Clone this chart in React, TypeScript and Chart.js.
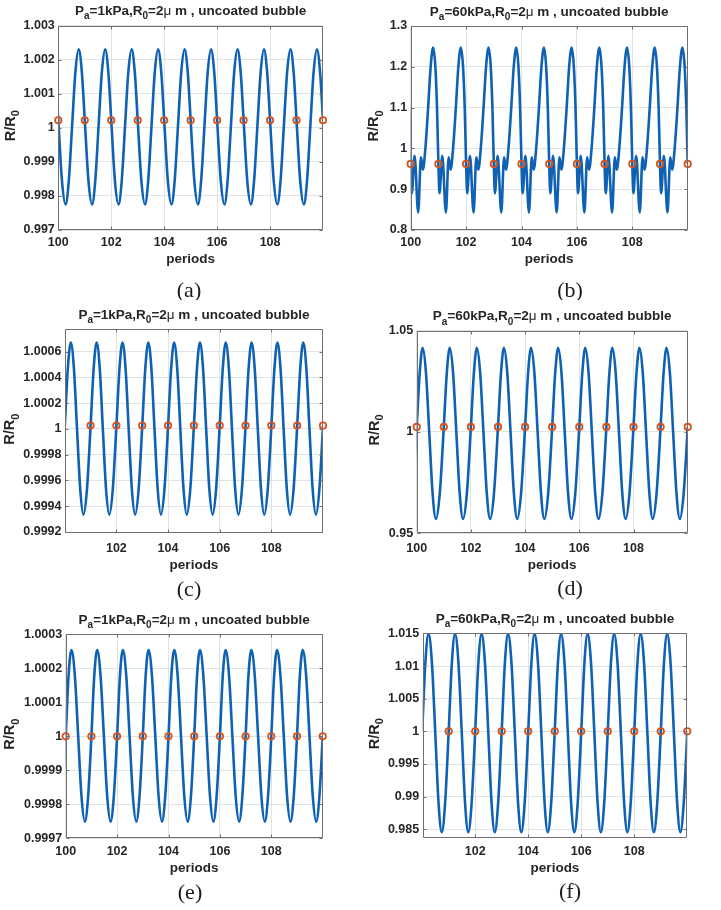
import React, { useEffect, useRef } from "react";
import { Chart, registerables } from "chart.js";
Chart.register(...registerables);

// ---------------- data ----------------
const periodStarts = [99, 100, 101, 102, 103, 104, 105, 106, 107, 108, 109, 110];

// (a) Pa = 1 kPa
const aPhase = [0, 0.14, 0.275, 0.395, 0.52, 0.645, 0.77, 0.89];
const aShape = [1.00022, 0.99843, 0.99775, 0.99843, 1.00003, 1.00163, 1.0023, 1.00163];
const aMarkX = [100, 101, 102, 103, 104, 105, 106, 107, 108, 109, 110];
const aMarkY = [1.00022, 1.00022, 1.00022, 1.00022, 1.00022, 1.00022, 1.00022, 1.00022, 1.00022, 1.00022, 1.00022];
const aXTicks = [100, 102, 104, 106, 108];
const aYTicks = [0.997, 0.998, 0.999, 1, 1.001, 1.002, 1.003];
const aYLabels = ["0.997", "0.998", "0.999", "1", "1.001", "1.002", "1.003"];

// (b) Pa = 60 kPa
const bPhase = [0, 0.04, 0.14, 0.27, 0.37, 0.44, 0.53, 0.63, 0.72, 0.81, 0.89, 0.95];
const bShape = [0.962, 0.89, 0.982, 0.843, 0.978, 0.948, 1.0, 1.1, 1.2, 1.247, 1.2, 1.1];
const bMarkX = [100, 101, 102, 103, 104, 105, 106, 107, 108, 109, 110];
const bMarkY = [0.962, 0.962, 0.962, 0.962, 0.962, 0.962, 0.962, 0.962, 0.962, 0.962, 0.962];
const bXTicks = [100, 102, 104, 106, 108];
const bYTicks = [0.8, 0.9, 1, 1.1, 1.2, 1.3];
const bYLabels = ["0.8", "0.9", "1", "1.1", "1.2", "1.3"];

// (c) Pa = 1 kPa
const cPhase = [0, 0.12, 0.235, 0.355, 0.475, 0.6, 0.725, 0.86];
const cShape = [1.00002, 1.00047, 1.00067, 1.00047, 1.0000025, 0.99953, 0.999335, 0.99953];
const cMarkX = [101, 102, 103, 104, 105, 106, 107, 108, 109, 110];
const cMarkY = [1.000026, 1.000026, 1.000026, 1.000026, 1.000026, 1.000026, 1.000026, 1.000026, 1.000026, 1.000026];
const cXTicks = [102, 104, 106, 108];
const cYTicks = [0.9992, 0.9994, 0.9996, 0.9998, 1, 1.0002, 1.0004, 1.0006];
const cYLabels = ["0.9992", "0.9994", "0.9996", "0.9998", "1", "1.0002", "1.0004", "1.0006"];

// (d) Pa = 60 kPa
const dPhase = [0, 0.11, 0.22, 0.343, 0.465, 0.588, 0.71, 0.85];
const dShape = [1.0025, 1.0291, 1.0415, 1.0291, 0.9993, 0.9695, 0.9571, 0.9695];
const dMarkX = [100, 101, 102, 103, 104, 105, 106, 107, 108, 109, 110];
const dMarkY = [1.0025, 1.0025, 1.0025, 1.0025, 1.0025, 1.0025, 1.0025, 1.0025, 1.0025, 1.0025, 1.0025];
const dXTicks = [100, 102, 104, 106, 108];
const dYTicks = [0.95, 1, 1.05];
const dYLabels = ["0.95", "1", "1.05"];

// (e) Pa = 1 kPa
const ePhase = [0, 0.112, 0.225, 0.355, 0.485, 0.615, 0.745, 0.872];
const eShape = [1.0, 1.000179, 1.000254, 1.000179, 1.0000015, 0.999823, 0.999749, 0.999823];
const eMarkX = [100, 101, 102, 103, 104, 105, 106, 107, 108, 109, 110];
const eMarkY = [1.0, 1.0, 1.0, 1.0, 1.0, 1.0, 1.0, 1.0, 1.0, 1.0, 1.0];
const eXTicks = [100, 102, 104, 106, 108];
const eYTicks = [0.9997, 0.9998, 0.9999, 1, 1.0001, 1.0002, 1.0003];
const eYLabels = ["0.9997", "0.9998", "0.9999", "1", "1.0001", "1.0002", "1.0003"];

// (f) Pa = 60 kPa
const fPhase = [0, 0.12, 0.24, 0.368, 0.495, 0.618, 0.74, 0.865];
const fShape = [1.0, 1.0105, 1.0149, 1.0105, 0.99972, 0.989, 0.98454, 0.989];
const fMarkX = [101, 102, 103, 104, 105, 106, 107, 108, 109, 110];
const fMarkY = [1.0, 1.0, 1.0, 1.0, 1.0, 1.0, 1.0, 1.0, 1.0, 1.0];
const fXTicks = [102, 104, 106, 108];
const fYTicks = [0.985, 0.99, 0.995, 1, 1.005, 1.01, 1.015];
const fYLabels = ["0.985", "0.99", "0.995", "1", "1.005", "1.01", "1.015"];

const panelPressure = ["1kPa", "60kPa", "1kPa", "60kPa", "1kPa", "60kPa"];
const panelLetters = ["(a)", "(b)", "(c)", "(d)", "(e)", "(f)"];

// ---------------- styling ----------------
const FAM = '"Liberation Sans", Arial, Helvetica, sans-serif';
const TEXT = "#262626";
const BLUE = "#0f62b3";
const ORANGE = "#d95319";
const GRID = "#e2e2e2";
const FRAME = "#707070";
const YW = 50;
const XH = 30;

type Seg = { t: string; sub?: boolean; plain?: boolean };

interface PanelDef {
  cx: number; cy: number; cw: number; ch: number;
  L: number; T: number; R: number; B: number;
  xr: [number, number]; yr: [number, number];
  phase: number[]; shape: number[];
  markX: number[]; markY: number[];
  xTicks: number[]; yTicks: number[]; yLabels: string[];
  pa: string; letter: string;
  letterX: number; letterY: number;
  ylabelX: number; xTickPad: number; xlabelDy: number;
}

const panels: PanelDef[] = [
  { cx: 0, cy: 0, cw: 360, ch: 300, L: 58.3, T: 25.5, R: 323, B: 230, xr: [100, 110], yr: [0.997, 1.003],
    phase: aPhase, shape: aShape, markX: aMarkX, markY: aMarkY, xTicks: aXTicks, yTicks: aYTicks, yLabels: aYLabels,
    pa: panelPressure[0], letter: panelLetters[0], letterX: 189, letterY: 291, ylabelX: 9.5, xTickPad: 5.3, xlabelDy: 29 },
  { cx: 360, cy: 0, cw: 361, ch: 300, L: 410.7, T: 26, R: 687.7, B: 230, xr: [100, 110], yr: [0.8, 1.3],
    phase: bPhase, shape: bShape, markX: bMarkX, markY: bMarkY, xTicks: bXTicks, yTicks: bYTicks, yLabels: bYLabels,
    pa: panelPressure[1], letter: panelLetters[1], letterX: 570, letterY: 291, ylabelX: 373, xTickPad: 5.3, xlabelDy: 29 },
  { cx: 0, cy: 300, cw: 360, ch: 300, L: 65, T: 329, R: 323, B: 533.3, xr: [100.01, 110], yr: [0.99919, 1.000776],
    phase: cPhase, shape: cShape, markX: cMarkX, markY: cMarkY, xTicks: cXTicks, yTicks: cYTicks, yLabels: cYLabels,
    pa: panelPressure[2], letter: panelLetters[2], letterX: 189, letterY: 590, ylabelX: 9, xTickPad: 7.8, xlabelDy: 32 },
  { cx: 360, cy: 300, cw: 361, ch: 300, L: 416.7, T: 330.7, R: 687.7, B: 533.3, xr: [100, 110], yr: [0.95, 1.05],
    phase: dPhase, shape: dShape, markX: dMarkX, markY: dMarkY, xTicks: dXTicks, yTicks: dYTicks, yLabels: dYLabels,
    pa: panelPressure[3], letter: panelLetters[3], letterX: 570, letterY: 589, ylabelX: 373.5, xTickPad: 7.8, xlabelDy: 32 },
  { cx: 0, cy: 600, cw: 360, ch: 310, L: 65.7, T: 634.3, R: 322.7, B: 838.3, xr: [100, 110], yr: [0.9997, 1.0003],
    phase: ePhase, shape: eShape, markX: eMarkX, markY: eMarkY, xTicks: eXTicks, yTicks: eYTicks, yLabels: eYLabels,
    pa: panelPressure[4], letter: panelLetters[4], letterX: 190, letterY: 893, ylabelX: 9, xTickPad: 5.8, xlabelDy: 30 },
  { cx: 360, cy: 600, cw: 361, ch: 310, L: 422.7, T: 633.3, R: 687.3, B: 838.3, xr: [100.02, 110], yr: [0.98362, 1.01502],
    phase: fPhase, shape: fShape, markX: fMarkX, markY: fMarkY, xTicks: fXTicks, yTicks: fYTicks, yLabels: fYLabels,
    pa: panelPressure[5], letter: panelLetters[5], letterX: 570, letterY: 892, ylabelX: 373.5, xTickPad: 5.8, xlabelDy: 30 },
];

function segFont(s: Seg, size: number) {
  if (s.plain) return `${size}px ${FAM}`;
  return s.sub ? `bold ${Math.round(size * 0.75)}px ${FAM}` : `bold ${size}px ${FAM}`;
}
function measureRich(ctx: CanvasRenderingContext2D, segs: Seg[], size: number) {
  let w = 0;
  for (const s of segs) { ctx.font = segFont(s, size); w += ctx.measureText(s.t).width; }
  return w;
}
function drawRich(ctx: CanvasRenderingContext2D, segs: Seg[], x: number, y: number, size: number) {
  let cx = x;
  for (const s of segs) {
    ctx.font = segFont(s, size);
    ctx.fillText(s.t, cx, y + (s.sub ? size * 0.33 : 0));
    cx += ctx.measureText(s.t).width;
  }
}

function buildCurve(p: PanelDef) {
  const pts: { x: number; y: number }[] = [];
  for (const k of periodStarts) {
    for (let i = 0; i < p.phase.length; i++) {
      const x = k + p.phase[i];
      if (x >= p.xr[0] - 0.3 && x <= p.xr[1] + 0.3) pts.push({ x, y: p.shape[i] });
    }
  }
  return pts;
}

function Panel({ p }: { p: PanelDef }) {
  const ref = useRef<HTMLCanvasElement>(null);
  useEffect(() => {
    const canvas = ref.current!;
    const curve = buildCurve(p);
    const marks = p.markX.map((x, i) => ({ x, y: p.markY[i] }));
    const titleSegs: Seg[] = [
      { t: "P" }, { t: "a", sub: true }, { t: "=" + p.pa + ",R" }, { t: "0", sub: true },
      { t: "=2" }, { t: "\u03bc", plain: true }, { t: " m , uncoated bubble" },
    ];
    const ySegs: Seg[] = [{ t: "R/R" }, { t: "0", sub: true }];

    const annot = {
      id: "annot",
      afterDatasetsDraw(chart: any) {
        const ctx: CanvasRenderingContext2D = chart.ctx;
        const a = chart.chartArea;
        const xs = chart.scales.x, ys = chart.scales.y;
        ctx.save();
        ctx.strokeStyle = FRAME;
        ctx.lineWidth = 1;
        const l = Math.round(a.left) + 0.5, r = Math.round(a.right) - 0.5;
        const t = Math.round(a.top) + 0.5, b = Math.round(a.bottom) - 0.5;
        ctx.beginPath();
        ctx.rect(l, t, r - l, b - t);
        for (const v of p.xTicks) {
          const px = Math.round(xs.getPixelForValue(v)) + 0.5;
          ctx.moveTo(px, b); ctx.lineTo(px, b - 3);
          ctx.moveTo(px, t); ctx.lineTo(px, t + 3);
        }
        for (const v of p.yTicks) {
          const py = Math.round(ys.getPixelForValue(v)) + 0.5;
          ctx.moveTo(l, py); ctx.lineTo(l + 3, py);
          ctx.moveTo(r, py); ctx.lineTo(r - 3, py);
        }
        ctx.stroke();
        ctx.restore();
      },
      afterDraw(chart: any) {
        const ctx: CanvasRenderingContext2D = chart.ctx;
        const a = chart.chartArea;
        const midX = (a.left + a.right) / 2;
        const midY = (a.top + a.bottom) / 2;
        ctx.save();
        ctx.fillStyle = TEXT;
        ctx.textBaseline = "alphabetic";
        ctx.textAlign = "left";
        // title
        const tw = measureRich(ctx, titleSegs, 13.5);
        drawRich(ctx, titleSegs, midX - tw / 2, a.top - 10.5, 13.5);
        // x label
        ctx.font = `bold 13.5px ${FAM}`;
        ctx.textAlign = "center";
        ctx.textBaseline = "middle";
        ctx.fillText("periods", midX, a.bottom + p.xlabelDy);
        // y label
        ctx.textAlign = "left";
        ctx.textBaseline = "alphabetic";
        const yw = measureRich(ctx, ySegs, 14.5);
        ctx.save();
        ctx.translate(p.ylabelX - p.cx + 5.2, midY - 2);
        ctx.rotate(-Math.PI / 2);
        drawRich(ctx, ySegs, -yw / 2, 0, 14.5);
        ctx.restore();
        // panel letter
        ctx.font = `22px "Liberation Serif", "Times New Roman", serif`;
        ctx.fillStyle = "#1a1a1a";
        ctx.textAlign = "center";
        ctx.textBaseline = "middle";
        ctx.fillText(p.letter, p.letterX - p.cx, p.letterY - p.cy);
        ctx.restore();
      },
    };

    const chart = new Chart(canvas, {
      type: "line",
      data: {
        datasets: [
          {
            data: marks, showLine: false, pointRadius: 3.2, pointHoverRadius: 3.2, pointBorderWidth: 1.8,
            pointBorderColor: ORANGE, pointBackgroundColor: "rgba(0,0,0,0)", clip: false,
          } as any,
          {
            data: curve, borderColor: BLUE, borderWidth: 2.6, pointRadius: 0, pointHoverRadius: 0,
            cubicInterpolationMode: "monotone", clip: 0, fill: false,
          } as any,
        ],
      },
      options: {
        responsive: false,
        animation: false,
        devicePixelRatio: 1,
        events: [],
        layout: {
          padding: {
            left: p.L - p.cx - YW,
            right: p.cx + p.cw - p.R,
            top: p.T - p.cy,
            bottom: p.cy + p.ch - p.B - XH,
          },
        },
        plugins: { legend: { display: false }, tooltip: { enabled: false }, title: { display: false } },
        scales: {
          x: {
            type: "linear", min: p.xr[0], max: p.xr[1],
            afterBuildTicks: (s: any) => { s.ticks = p.xTicks.map((v) => ({ value: v })); },
            afterFit: (s: any) => { s.height = XH; },
            ticks: {
              autoSkip: false, maxRotation: 0, padding: p.xTickPad, color: TEXT,
              font: { family: FAM, size: 12.5, weight: "bold" },
              callback: (v: any) => String(v),
            },
            grid: { color: GRID, lineWidth: 1, drawTicks: false },
            border: { display: false },
          },
          y: {
            type: "linear", min: p.yr[0], max: p.yr[1],
            afterBuildTicks: (s: any) => { s.ticks = p.yTicks.map((v) => ({ value: v })); },
            afterFit: (s: any) => { s.width = YW; },
            ticks: {
              autoSkip: false, padding: 3.5, color: TEXT,
              font: { family: FAM, size: 12.5, weight: "bold" },
              callback: (_v: any, i: number) => p.yLabels[i],
            },
            grid: { color: GRID, lineWidth: 1, drawTicks: false },
            border: { display: false },
          },
        },
      } as any,
      plugins: [annot],
    });
    return () => chart.destroy();
  }, []);
  return (
    <canvas
      ref={ref}
      width={p.cw}
      height={p.ch}
      style={{ position: "absolute", left: p.cx, top: p.cy, width: p.cw, height: p.ch }}
    />
  );
}

export default function App() {
  return (
    <div style={{ position: "fixed", left: 0, top: 0, width: 721, height: 910, background: "#ffffff", overflow: "hidden" }}>
      {panels.map((p, i) => (
        <Panel key={i} p={p} />
      ))}
    </div>
  );
}
